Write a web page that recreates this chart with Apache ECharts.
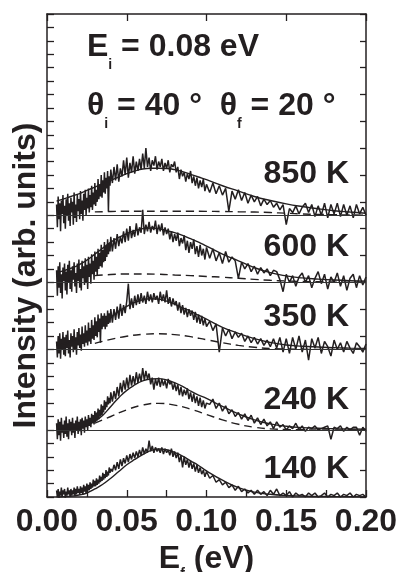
<!DOCTYPE html>
<html>
<head>
<meta charset="utf-8">
<script src="https://cdn.jsdelivr.net/npm/echarts@6/dist/echarts.min.js"></script>
<style>
  html, body { margin: 0; padding: 0; background: #fff; }
  #main { width: 400px; height: 572px; }
</style>
</head>
<body>
<div id="main"></div>
<script>
// final energy grid (eV), dense at low energy like the TOF data
const ef = [
  0.0060,0.0065,0.0070,0.0075,0.0080,0.0085,0.0090,0.0095,0.0100,0.0105,
  0.0110,0.0115,0.0120,0.0125,0.0130,0.0135,0.0140,0.0145,0.0150,0.0155,
  0.0160,0.0165,0.0170,0.0175,0.0180,0.0185,0.0190,0.0195,0.0200,0.0205,
  0.0210,0.0215,0.0220,0.0225,0.0230,0.0235,0.0240,0.0245,0.0250,0.0255,
  0.0260,0.0265,0.0270,0.0275,0.0280,0.0285,0.0290,0.0295,0.0300,0.0305,
  0.0310,0.0315,0.0320,0.0325,0.0330,0.0335,0.0340,0.0345,0.0350,0.0355,
  0.0360,0.0365,0.0370,0.0375,0.0380,0.0385,0.0390,0.0395,0.0400,
  0.041,0.042,0.043,0.044,0.045,0.046,0.047,0.048,0.049,0.050,
  0.051,0.052,0.053,0.054,0.055,0.056,0.057,0.058,0.059,0.060,
  0.061,0.062,0.063,0.064,0.065,0.066,0.067,0.068,0.069,0.070,
  0.071,0.072,0.073,0.074,0.075,0.076,0.077,0.078,0.079,0.080,
  0.081,0.082,0.083,0.084,0.085,0.086,0.087,0.088,0.089,0.090,
  0.091,0.092,0.093,0.094,0.095,0.096,0.097,0.098,0.099,0.100,
  0.102,0.104,0.106,0.108,0.110,0.112,0.114,0.116,0.118,0.120,
  0.122,0.124,0.126,0.128,0.130,0.132,0.134,0.136,0.138,0.140,
  0.142,0.144,0.146,0.148,0.150,0.152,0.154,0.156,0.158,0.160,
  0.162,0.164,0.166,0.168,0.170,0.172,0.174,0.176,0.178,0.180,
  0.182,0.184,0.186,0.188,0.190,0.192,0.194,0.196,0.198,0.200
]

// measured intensities (arb. units, above each curve's own baseline)
const t850 = [
  0.8,-0.9,1.4,-0.3,0.9,-1.2,1.1,0.1,1.5,-0.6, 0.7,-1.0,1.2,0.0,1.6,-0.4,0.9,-0.8,1.3,0.2,
  1.0,-0.7,1.7,-0.2,0.8,-0.5,1.5,0.3,1.2,-0.3, 1.8,0.1,1.1,-0.4,1.6,0.4,1.9,0.0,1.3,0.5,
  2.0,0.2,1.5,0.6,2.2,0.4,1.7,0.8,2.4,0.7, 1.9,1.0,2.7,1.2,2.3,1.4,3.0,1.3,2.6,1.7,
  3.2,1.6,2.8,2.0,3.3,0.3,2.9,2.2,3.4,
  2.4,3.6,2.6,3.8,2.5,3.5,2.9,4.1,3.0,4.3, 2.8,3.9,3.2,4.4,3.1,4.0,3.3,4.2,3.4,4.6,
  3.5,5.0,3.6,4.3,3.3,4.1,3.7,4.4,3.4,4.0, 3.6,4.2,3.3,3.9,3.5,4.1,3.2,3.8,3.6,4.0,
  3.2,3.6,2.7,3.4,2.9,3.2,2.5,3.1,2.7,3.3, 2.4,2.9,2.2,2.8,2.0,2.6,2.1,2.7,1.8,2.3,
  1.7,2.4,1.6,2.2,1.5,2.0,0.3,1.8,1.2,1.9, 1.1,1.7,0.9,1.5,1.0,1.4,0.7,1.2,0.8,1.1,
  0.6,0.9,0.4,0.8,-0.7,0.5,0.2,0.7,0.1,0.6, 0.9,0.2,0.8,-0.1,0.7,0.0,0.9,-0.2,0.8,0.1,
  0.9,-0.1,0.8,0.0,0.7,-0.2,0.8,0.1,0.6,0.0
]
const t600 = [
  0.9,-1.0,1.2,-0.4,1.5,-0.8,0.6,-1.2,1.1,0.1, 1.4,-0.6,0.8,-0.9,1.3,0.0,1.6,-0.5,0.9,-0.7,
  1.2,0.2,1.5,-0.3,0.7,-0.8,1.4,0.1,1.7,-0.4, 1.0,-0.6,1.6,0.3,1.2,-0.2,1.8,0.0,1.3,-0.5,
  1.9,0.4,1.4,-0.1,2.1,0.6,1.6,0.2,2.3,0.8, 1.9,0.5,2.5,1.0,2.2,1.2,2.8,1.1,2.4,1.5,
  3.0,1.6,2.7,1.9,3.2,2.1,2.9,2.3,3.4,
  2.3,3.3,2.5,3.6,2.7,3.4,2.9,3.8,3.0,4.0, 3.1,4.2,3.3,3.9,3.4,4.4,3.5,4.1,3.7,5.4,
  3.6,4.3,3.8,4.5,3.7,4.2,3.9,4.6,3.6,4.3, 3.8,4.4,3.5,4.1,3.6,4.0,3.2,3.8,3.0,3.6,
  3.1,3.7,2.7,3.3,2.9,3.5,2.4,3.1,2.2,3.0, 2.5,3.2,2.1,2.7,1.9,2.8,2.0,2.5,1.7,2.6,
  1.8,2.5,1.6,2.2,1.4,2.3,1.5,1.9,1.6,0.3, 1.5,1.0,1.4,0.8,1.2,0.6,1.1,0.7,1.0,0.5,
  0.9,0.8,0.2,-0.7,0.6,0.0,0.5,-0.3,0.4,0.7, 0.0,0.5,-0.4,0.3,0.8,-0.1,0.6,-0.5,0.4,0.0,
  0.7,-0.3,0.5,-0.6,0.3,0.6,-0.4,0.5,-0.2,0.4
]
const t350 = [
  0.6,-0.6,1.0,-0.3,1.2,-0.7,0.8,0.0,1.3,-0.4, 0.9,-0.5,1.1,0.1,1.4,-0.3,0.7,-0.6,1.2,0.2,
  1.0,-0.2,1.5,0.0,0.9,-0.4,1.3,0.3,1.6,0.1, 1.1,-0.1,1.7,0.4,1.2,0.2,1.8,0.5,1.4,0.3,
  2.0,0.6,1.6,0.4,2.2,0.8,1.8,0.7,2.4,1.0, 2.1,0.9,2.6,1.3,2.3,0.5,2.7,1.5,2.5,1.7,
  2.7,1.5,2.5,1.7,2.9,1.9,2.7,2.0,3.0,
  2.0,3.0,2.2,3.2,2.3,3.4,2.5,3.3,2.7,3.6, 4.9,3.0,3.8,3.1,4.0,3.3,4.1,3.4,4.2,3.5,
  4.0,3.4,4.3,3.6,4.1,3.5,4.2,3.7,4.0,3.4, 4.3,3.6,4.1,3.5,4.4,3.4,3.9,3.2,3.8,3.3,
  3.6,2.9,3.5,2.7,3.3,2.6,3.1,2.4,3.0,2.5, 2.9,2.2,2.8,2.0,2.6,1.9,2.5,1.8,2.3,1.7,
  2.1,1.4,1.9,-0.2,1.6,1.0,1.5,0.8,1.3,0.9, 1.2,0.6,1.0,0.5,0.9,0.4,0.8,0.3,0.7,0.2,
  0.8,0.1,0.9,-0.2,0.8,-0.3,0.9,0.0,1.0,-0.2, 0.7,-0.8,0.8,0.1,0.9,-0.3,0.6,0.2,-0.5,0.7,
  0.0,0.5,-0.2,0.6,0.1,-0.3,0.5,0.2,-0.2,0.4
]
const t240 = [
  0.5,-0.7,0.8,-0.4,0.6,-0.8,0.9,-0.2,0.4,-0.6, 0.7,-0.3,1.0,-0.5,0.5,-0.7,0.8,-0.1,0.6,-0.4,
  0.9,-0.2,0.5,-0.6,0.7,0.0,1.0,-0.3,0.6,-0.1, 0.8,-0.4,0.9,0.1,0.7,-0.2,1.0,0.2,0.8,0.0,
  1.1,0.3,0.9,0.2,1.2,0.5,1.1,0.4,1.4,0.6, 1.3,0.7,1.6,0.8,1.5,1.0,1.9,1.1,1.8,1.3,
  2.2,1.5,2.1,1.7,2.5,1.9,2.4,2.0,2.8,
  2.1,2.9,2.3,3.2,2.5,3.5,2.8,3.7,3.0,3.9, 3.1,4.1,3.3,4.0,3.4,4.3,3.5,4.2,3.6,4.6,
  3.7,4.4,3.8,4.2,3.4,3.9,3.0,3.8,3.3,3.9, 3.2,3.8,3.3,3.7,3.1,3.8,3.4,3.6,3.0,3.5,
  2.9,3.4,2.6,3.2,2.5,3.0,2.6,3.1,2.3,2.8, 2.1,2.7,2.0,2.5,1.8,2.4,1.7,2.2,1.6,2.0,
  1.9,2.3,1.6,2.0,1.4,1.8,1.2,1.5,1.0,1.3, 0.8,1.2,0.7,1.1,0.5,0.9,0.4,0.8,0.3,0.6,
  0.1,0.6,0.2,0.4,0.0,0.3,0.1,0.5,0.0,0.3, -0.1,0.2,0.1,0.3,0.0,0.1,0.2,0.3,-0.7,0.2,
  0.1,0.3,-0.1,0.2,0.0,0.2,0.2,-0.4,0.2,-0.1
]
const t140 = [
  0.5,0.0,0.6,-0.1,0.4,0.1,0.7,0.0,0.5,0.2, 0.6,-0.1,0.4,0.1,0.7,0.2,0.5,0.0,0.6,0.1,
  0.5,0.2,0.7,0.1,0.6,0.2,0.8,0.3,0.6,0.2, 0.8,0.3,0.7,0.2,0.9,0.4,0.8,0.3,1.0,0.5,
  0.9,0.5,1.1,0.6,1.0,0.7,1.3,0.8,1.2,0.8, 1.4,0.9,1.3,1.0,1.6,1.1,1.5,1.2,1.8,1.3,
  1.7,1.4,2.0,1.5,1.9,1.6,2.2,1.8,2.1,
  1.9,2.4,2.0,2.6,2.1,2.8,2.3,2.9,2.5,3.1, 2.6,3.2,2.8,3.3,2.9,3.4,3.0,3.5,3.1,3.7,
  3.2,3.6,3.3,4.2,3.4,3.8,3.3,3.7,3.4,3.6, 3.3,3.7,3.2,3.6,3.3,3.5,3.1,3.6,3.0,3.4,
  2.9,3.3,2.6,3.1,2.2,3.0,2.4,2.8,2.2,2.7, 2.1,2.5,1.9,2.4,1.8,2.2,1.7,2.0,1.5,1.9,
  1.4,1.6,1.1,1.3,0.9,1.1,0.7,0.9,0.5,0.8, 0.4,0.6,0.3,0.5,0.2,0.5,0.2,0.4,0.1,0.5,
  0.2,0.6,0.1,0.3,0.1,0.4,0.0,0.3,0.1,0.2, 0.0,0.3,0.1,0.3,0.0,0.1,0.3,0.0,0.2,0.1,
  0.3,0.0,0.2,0.1,0.3,0.0,0.2,0.1,0.2,0.0
]

// fitted curves (solid)
const fitE = [0.006,0.01,0.015,0.02,0.025,0.03,0.035,0.04,0.045,0.05,0.055,0.06,0.065,0.07,0.075,
  0.08,0.085,0.09,0.095,0.1,0.11,0.12,0.13,0.14,0.15,0.16,0.17,0.18,0.19,0.2]
const fit850 = [1.05,1.2,1.4,1.6,1.85,2.1,2.35,2.6,2.85,3.1,3.3,3.45,3.5,3.5,3.48,
  3.4,3.25,3.05,2.85,2.65,2.2,1.8,1.4,1.1,0.85,0.65,0.48,0.34,0.24,0.15]
const fit600 = [0.7,0.85,1.05,1.3,1.65,2.1,2.55,3.0,3.35,3.63,3.85,4.0,4.05,4.0,3.85,
  3.7,3.5,3.25,3.0,2.7,2.1,1.6,1.1,0.72,0.48,0.33,0.24,0.17,0.12,0.09]
const fit350 = [0.3,0.4,0.6,0.85,1.15,1.5,1.95,2.4,2.85,3.2,3.5,3.7,3.78,3.75,3.6,
  3.38,3.1,2.85,2.55,2.25,1.65,1.2,0.8,0.52,0.33,0.24,0.18,0.13,0.1,0.08]
const fit240 = [0.05,0.08,0.12,0.2,0.35,0.65,1.1,1.75,2.4,2.95,3.35,3.65,3.8,3.82,3.72,
  3.52,3.25,2.9,2.6,2.35,1.75,1.2,0.75,0.45,0.27,0.17,0.12,0.09,0.07,0.05]
const fit140 = [0.0,0.02,0.06,0.15,0.3,0.6,0.95,1.4,1.9,2.4,2.8,3.15,3.45,3.58,3.52,
  3.32,3.05,2.7,2.35,1.95,1.25,0.7,0.36,0.2,0.11,0.07,0.04,0.03,0.02,0.01]

// second fit component (dashed)
const dashE = [0.03,0.04,0.05,0.06,0.07,0.08,0.09,0.1,0.11,0.12,0.13,0.14,0.15,0.16,0.17,0.18,0.19,0.2]
const dash850 = [0.25,0.28,0.3,0.3,0.3,0.3,0.3,0.29,0.28,0.26,0.24,0.2,0.15,0.1,0.06,0.04,0.02,0.01]
const dash600 = [0.5,0.58,0.62,0.62,0.6,0.55,0.5,0.44,0.38,0.3,0.22,0.15,0.1,0.06,0.04,0.02,0.01,0.0]
const dash350 = [0.45,0.75,0.98,1.12,1.17,1.1,0.95,0.72,0.5,0.3,0.16,0.07,0.03,0.01,0,0,0,0]
const dash240 = [0.5,1.0,1.5,1.85,1.98,1.85,1.55,1.15,0.75,0.42,0.2,0.08,0.03,0.01,0,0,0,0]

const tempLabels = ['850 K', '600 K', '350 K', '240 K', '140 K']
const offsets = [21, 16, 11, 5, 0] // vertical shift of each curve
const xTicks = [0, 0.05, 0.1, 0.15, 0.2]

const FONT = '"Liberation Sans", Arial, Helvetica, sans-serif'
const INK = '#231f20'

const spectra = [
  { data: t850, fit: fit850, dash: dash850 },
  { data: t600, fit: fit600, dash: dash600 },
  { data: t350, fit: fit350, dash: dash350 },
  { data: t240, fit: fit240, dash: dash240 },
  { data: t140, fit: fit140, dash: null },
]

const richBig = { fontFamily: FONT, fontWeight: 'bold', fontSize: 32, lineHeight: 32, color: INK, verticalAlign: 'top' }
const richSub = { fontFamily: FONT, fontWeight: 'bold', fontSize: 14, lineHeight: 14, color: INK, verticalAlign: 'top', padding: [27, 0, 0, 0] }
const richSubX = Object.assign({}, richSub, { padding: [24, 0, 0, 0] })

const series = []
spectra.forEach((s, k) => {
  const off = offsets[k]
  series.push({
    type: 'line',
    showSymbol: false,
    silent: true,
    lineStyle: { color: INK, width: 1.5 },
    data: ef.map((e, i) => [e, s.data[i] + off]),
    markLine: off > 0 ? {
      silent: true,
      symbol: 'none',
      label: { show: false },
      lineStyle: { color: '#333', width: 1, type: 'solid' },
      data: [{ yAxis: off }],
    } : undefined,
  })
  series.push({
    type: 'line',
    showSymbol: false,
    silent: true,
    smooth: true,
    lineStyle: { color: INK, width: 1.4 },
    data: fitE.map((e, i) => [e, s.fit[i] + off]),
  })
  if (s.dash) {
    series.push({
      type: 'line',
      showSymbol: false,
      silent: true,
      smooth: true,
      lineStyle: { color: INK, width: 1.4, type: [8, 5] },
      data: dashE.map((e, i) => [e, s.dash[i] + off]),
    })
  }
})

// temperature labels, right aligned inside the frame
const labelTops = [158, 231, 301, 384, 453]
const titles = [
  { text: '{a|E}{s|i}{a| = 0.08 eV}', left: 87, top: 31, padding: 0,
    textStyle: { rich: { a: richBig, s: richSub } } },
  { text: '{a|θ}{s|i}{a| = 40 °  θ}{s|f}{a| = 20 °}', left: 87, top: 90, padding: 0,
    textStyle: { rich: { a: richBig, s: richSub } } },
]
tempLabels.forEach((t, k) => {
  titles.push({
    text: t, right: 51, top: labelTops[k], padding: 0,
    textStyle: { fontFamily: FONT, fontWeight: 'bold', fontSize: 32, lineHeight: 32, color: INK },
  })
})

const axisLine = { show: true, onZero: false, lineStyle: { color: INK, width: 1.5 } }

const myChart = echarts.init(document.getElementById('main'))
myChart.setOption({
  animation: false,
  backgroundColor: '#fff',
  title: titles,
  grid: { left: 47, right: 34, top: 14, bottom: 75, containLabel: false, outerBoundsMode: 'none' },
  xAxis: [
    {
      type: 'value', min: xTicks[0], max: xTicks[xTicks.length - 1], interval: 0.05,
      position: 'bottom',
      axisLine,
      axisTick: { inside: true, length: 7, lineStyle: { color: INK, width: 1.3 } },
      minorTick: { show: true, splitNumber: 2, length: 7, lineStyle: { color: INK, width: 1.3 } },
      splitLine: { show: false },
      axisLabel: {
        margin: 9, formatter: v => v.toFixed(2),
        fontFamily: FONT, fontWeight: 'bold', fontSize: 32, lineHeight: 32, color: INK,
      },
      name: '{a|E}{s|f}{a| (eV)}',
      nameLocation: 'middle',
      nameGap: 44,
      nameTextStyle: { rich: { a: richBig, s: richSubX } },
    },
    {
      type: 'value', min: 0, max: 0.2, interval: 0.05, position: 'top',
      axisLine,
      axisTick: { inside: true, length: 7, lineStyle: { color: INK, width: 1.3 } },
      axisLabel: { show: false },
      splitLine: { show: false },
    },
  ],
  yAxis: [
    {
      type: 'value', min: 0, max: 36, interval: 1, position: 'left',
      axisLine,
      axisTick: { inside: true, length: 7, lineStyle: { color: INK, width: 1.3 } },
      axisLabel: { show: false },
      splitLine: { show: false },
      name: 'Intensity (arb. units)',
      nameLocation: 'middle',
      nameGap: 5,
      nameTextStyle: {
        fontFamily: FONT, fontWeight: 'bold', fontSize: 32, lineHeight: 32, color: INK,
        padding: [0, 40, 0, 0],
      },
    },
    {
      type: 'value', min: 0, max: 36, interval: 2, position: 'right',
      axisLine,
      axisTick: { inside: true, length: 6, lineStyle: { color: INK, width: 1.3 } },
      axisLabel: { show: false },
      splitLine: { show: false },
    },
  ],
  series,
})
</script>
</body>
</html>
